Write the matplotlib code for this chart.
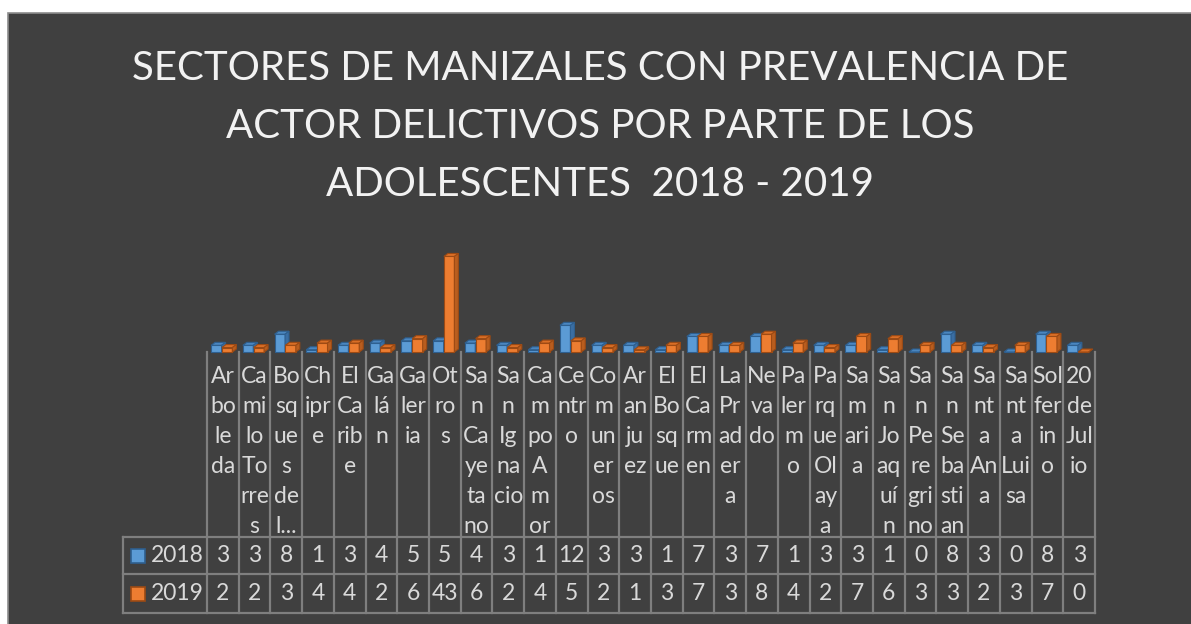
import matplotlib.pyplot as plt
from matplotlib.patches import Rectangle, Polygon

plt.rcParams['font.family'] = ['Lato', 'DejaVu Sans']

# ---- data ----
title = ("SECTORES DE MANIZALES CON PREVALENCIA DE\n"
         "ACTOR DELICTIVOS POR PARTE DE LOS\n"
         "ADOLESCENTES  2018 - 2019")

# category labels, wrapped as in the original narrow table columns
sectores = [
    "Ar\nbo\nle\nda", "Ca\nmi\nlo\nTo\nrre\ns", "Bo\nsq\nue\ns\nde\nl...",
    "Ch\nipr\ne", "El\nCa\nrib\ne", "Ga\nlá\nn", "Ga\nler\nia", "Ot\nro\ns",
    "Sa\nn\nCa\nye\nta\nno", "Sa\nn\nIg\nna\ncio", "Ca\nm\npo\nA\nm\nor",
    "Ce\nntr\no", "Co\nm\nun\ner\nos", "Ar\nan\nju\nez", "El\nBo\nsq\nue",
    "El\nCa\nrm\nen", "La\nPr\nad\ner\na", "Ne\nva\ndo", "Pa\nler\nm\no",
    "Pa\nrq\nue\nOl\nay\na", "Sa\nm\nari\na", "Sa\nn\nJo\naq\nuí\nn",
    "Sa\nn\nPe\nre\ngri\nno", "Sa\nn\nSe\nba\nsti\nan", "Sa\nnt\na\nAn\na",
    "Sa\nnt\na\nLui\nsa", "Sol\nfer\nin\no", "20\nde\nJul\nio",
]
v2018 = [3, 3, 8, 1, 3, 4, 5, 5, 4, 3, 1, 12, 3, 3, 1, 7, 3, 7, 1, 3, 3, 1, 0, 8, 3, 0, 8, 3]
v2019 = [2, 2, 3, 4, 4, 2, 6, 43, 6, 2, 4, 5, 2, 1, 3, 7, 3, 8, 4, 2, 7, 6, 3, 3, 2, 3, 7, 0]
series = ["2018", "2019"]

# ---- styling ----
W, H = 1191, 624
bg = '#404040'
grid = '#7f7f7f'
txt = '#d9d9d9'
blue = dict(front='#5b9bd5', top='#4a86c0', side='#3a6ea3', edge='#2e5f8f')
orange = dict(front='#ed7d31', top='#d96e26', side='#b95d1e', edge='#9c4a14')

fig = plt.figure(figsize=(W / 100, H / 100), dpi=100, facecolor='white')
fig.patches.append(Rectangle((8 / W, -0.01), 1.02 - 8 / W, (H - 13) / H + 0.01,
                             transform=fig.transFigure, facecolor=bg,
                             edgecolor='#8c8c8c', lw=1.2, zorder=-5))

# geometry (pixels)
x0, x1 = 207, 1095
base = 352
n = len(v2018)
colw = (x1 - x0) / n
ymax = 45
ax_h = 100

ax = fig.add_axes([x0 / W, (H - base) / H, (x1 - x0) / W, ax_h / H], zorder=2)
ax.set_xlim(0, n)
ax.set_ylim(0, ymax)
ax.axis('off')

ddx = 4 / colw
ddy = 3 / (ax_h / ymax)
bw = 0.33


def bar3d(xs, vals, c):
    bars = ax.bar(xs, vals, width=bw, align='edge', color=c['front'],
                  edgecolor=c['edge'], lw=0.8, zorder=3, clip_on=False)
    for b in bars:
        x, h = b.get_x(), b.get_height()
        ax.add_patch(Polygon([(x, h), (x + ddx, h + ddy), (x + bw + ddx, h + ddy), (x + bw, h)],
                             fc=c['top'], ec=c['edge'], lw=0.8, zorder=3, clip_on=False))
        ax.add_patch(Polygon([(x + bw, 0), (x + bw + ddx, ddy), (x + bw + ddx, h + ddy), (x + bw, h)],
                             fc=c['side'], ec=c['edge'], lw=0.8, zorder=3, clip_on=False))


idx = list(range(n))
bar3d([i + 0.13 for i in idx], v2018, blue)
bar3d([i + 0.47 for i in idx], v2019, orange)

# ---- title ----
tl = fig.add_axes([0, 0, 1, 1], zorder=5)
tl.set_xlim(0, W)
tl.set_ylim(H, 0)
tl.axis('off')
for k, line in enumerate(title.split('\n')):
    tl.text(600, 68 + k * 58.5, line, ha='center', va='center',
            fontsize=29, color='#f2f2f2')

# ---- data table ----
leg_x = 123
rows = [537, 574, 613]
for y in rows:
    tl.plot([leg_x, x1], [y, y], color=grid, lw=1.6)
for i in range(n + 1):
    tl.plot([x0 + i * colw] * 2, [base, rows[-1]], color=grid, lw=1.6)
tl.plot([leg_x] * 2, [rows[0], rows[-1]], color=grid, lw=1.6)

for i, lab in enumerate(sectores):
    tl.text(x0 + (i + 0.5) * colw, 366, lab, ha='center', va='top',
            fontsize=16.5, color=txt, linespacing=1.53)

for r, (name, vals, c) in enumerate(zip(series, [v2018, v2019], [blue, orange])):
    yc = (rows[r] + rows[r + 1]) / 2
    tl.add_patch(Rectangle((131, yc - 7), 14, 14, fc=c['front'], ec=c['edge'], lw=1.2))
    tl.text(151, yc, name, ha='left', va='center', fontsize=16.5, color=txt)
    for i, v in enumerate(vals):
        tl.text(x0 + (i + 0.5) * colw, yc, str(v), ha='center', va='center',
                fontsize=16.5, color=txt)

fig.savefig('out.png', dpi=100, facecolor='white')
